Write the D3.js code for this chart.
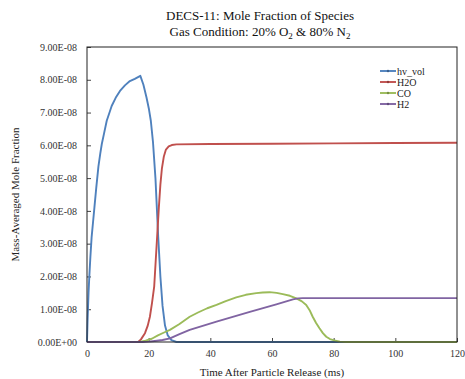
<!DOCTYPE html>
<html>
<head>
<meta charset="utf-8">
<script src="https://cdn.jsdelivr.net/npm/d3@7"></script>
<style>
  body { margin: 0; background: #fff; }
</style>
</head>
<body>
<div id="chart"></div>
<script>
const SERIF = 'Liberation Serif, DejaVu Serif, serif'

// time (ms) and mole fraction for each species
const hvTime = [0, 0.2, 0.5, 0.75, 1.1, 1.5, 2.0, 2.4, 3.0, 3.7, 4.3, 4.8, 5.5, 6.4, 7.3, 8, 9.3, 10.7, 12.3, 13.9, 15.5, 17.3, 18.3, 19.3, 20.1, 20.7, 21.4, 22.2, 23.1, 23.8, 24.5, 25.3, 26.2, 27.4, 29, 120]
const hvVal = [0, 0.7e-8, 1.5e-8, 2.0e-8, 2.6e-8, 3.2e-8, 3.7e-8, 4.1e-8, 4.7e-8, 5.35e-8, 5.75e-8, 6.04e-8, 6.35e-8, 6.75e-8, 7.0e-8, 7.2e-8, 7.45e-8, 7.66e-8, 7.83e-8, 7.96e-8, 8.03e-8, 8.12e-8, 7.85e-8, 7.46e-8, 7.1e-8, 6.75e-8, 6.1e-8, 5.0e-8, 3.2e-8, 2.0e-8, 1.1e-8, 0.5e-8, 0.2e-8, 0.06e-8, 0, 0]

const h2oTime = [0, 16.6, 17.5, 18.8, 19.7, 20.4, 21.1, 21.8, 22.3, 22.8, 23.3, 23.8, 24.3, 24.9, 25.6, 26.5, 27.5, 29, 40, 60, 80, 100, 120]
const h2oVal = [0, 0, 0.08e-8, 0.27e-8, 0.5e-8, 0.77e-8, 1.2e-8, 1.7e-8, 2.5e-8, 3.3e-8, 4.1e-8, 4.8e-8, 5.3e-8, 5.65e-8, 5.87e-8, 5.97e-8, 6.01e-8, 6.03e-8, 6.04e-8, 6.05e-8, 6.06e-8, 6.07e-8, 6.08e-8]

const coTime = [0, 17, 19, 21, 23, 25, 26.9, 30, 33.3, 36, 39, 42, 45, 48.4, 51.5, 54.9, 57, 59.2, 61.5, 63.5, 65.8, 67.9, 69.7, 71.1, 72.2, 73.2, 74.3, 75.4, 76.5, 77.6, 78.8, 80.2, 82, 84, 120]
const coVal = [0, 0, 0.04e-8, 0.1e-8, 0.2e-8, 0.29e-8, 0.37e-8, 0.55e-8, 0.77e-8, 0.9e-8, 1.03e-8, 1.13e-8, 1.25e-8, 1.36e-8, 1.44e-8, 1.49e-8, 1.51e-8, 1.52e-8, 1.5e-8, 1.46e-8, 1.41e-8, 1.33e-8, 1.24e-8, 1.13e-8, 0.97e-8, 0.77e-8, 0.58e-8, 0.42e-8, 0.27e-8, 0.16e-8, 0.09e-8, 0.05e-8, 0.01e-8, 0, 0]

const h2Time = [0, 18, 20, 22, 24.5, 26.9, 30, 33.3, 42, 52.8, 61.4, 66.8, 68.5, 70, 120]
const h2Val = [0, 0, 0.01e-8, 0.03e-8, 0.06e-8, 0.11e-8, 0.24e-8, 0.37e-8, 0.62e-8, 0.92e-8, 1.15e-8, 1.3e-8, 1.33e-8, 1.34e-8, 1.34e-8]

const seriesNames = ['hv_vol', 'H2O', 'CO', 'H2']
const seriesColors = ['#4F81BD', '#C0504D', '#9BBB59', '#8064A2']

const xTicks = [0, 20, 40, 60, 80, 100, 120]
const yTicks = [0, 1e-8, 2e-8, 3e-8, 4e-8, 5e-8, 6e-8, 7e-8, 8e-8, 9e-8]

const series = [
  { name: seriesNames[0], t: hvTime, v: hvVal },
  { name: seriesNames[1], t: h2oTime, v: h2oVal },
  { name: seriesNames[2], t: coTime, v: coVal },
  { name: seriesNames[3], t: h2Time, v: h2Val }
].map((s, i) => ({ name: s.name, color: seriesColors[i], pts: s.t.map((t, j) => [t, s.v[j]]) }))

const width = 465, height = 379
const margin = { top: 47, right: 8, bottom: 37, left: 87 }

const svg = d3.select('#chart').append('svg')
  .attr('width', width)
  .attr('height', height)
  .attr('font-family', SERIF)

const x = d3.scaleLinear().domain([0, 120]).range([margin.left, width - margin.right])
const y = d3.scaleLinear().domain([0, 9e-8]).range([height - margin.bottom, margin.top])

const sci = (v) => {
  if (v === 0) return '0.00E+00'
  const e = Math.floor(Math.log10(v) + 1e-9)
  const m = v / Math.pow(10, e)
  const es = (e < 0 ? '-' : '+') + String(Math.abs(e)).padStart(2, '0')
  return m.toFixed(2) + 'E' + es
}

// title
const title = svg.append('text')
  .attr('text-anchor', 'middle')
  .attr('font-family', SERIF)
  .attr('font-size', 13)
  .attr('fill', '#111')
title.append('tspan').attr('x', 260).attr('y', 20).text('DECS-11: Mole Fraction of Species')
const l2 = title.append('tspan').attr('x', 260).attr('y', 36)
l2.append('tspan').text('Gas Condition: 20% O')
l2.append('tspan').attr('dy', 3).attr('font-size', 9).text('2')
l2.append('tspan').attr('dy', -3).text(' & 80% N')
l2.append('tspan').attr('dy', 3).attr('font-size', 9).text('2')

// axes
const xAxis = svg.append('g')
  .attr('transform', `translate(0,${height - margin.bottom})`)
  .call(d3.axisBottom(x).tickValues(xTicks).tickSize(-4).tickPadding(8).tickFormat(d3.format('d')))
const yAxis = svg.append('g')
  .attr('transform', `translate(${margin.left},0)`)
  .call(d3.axisLeft(y).tickValues(yTicks).tickSize(-4).tickPadding(10).tickFormat(sci))

for (const g of [xAxis, yAxis]) {
  g.attr('font-family', SERIF).attr('font-size', 10)
  g.select('.domain').remove()
  g.selectAll('.tick line').attr('stroke', '#444')
  g.selectAll('.tick text').attr('fill', '#333')
}

const line = d3.line().x(d => x(d[0])).y(d => y(d[1]))

svg.append('g')
  .selectAll('path')
  .data(series)
  .join('path')
  .attr('fill', 'none')
  .attr('stroke', d => d.color)
  .attr('stroke-width', 1.9)
  .attr('stroke-linejoin', 'round')
  .attr('d', d => line(d.pts))

// plot frame
svg.append('rect')
  .attr('x', x(0))
  .attr('y', y(9e-8))
  .attr('width', x(120) - x(0))
  .attr('height', y(0) - y(9e-8))
  .attr('fill', 'none')
  .attr('stroke', '#222')
  .attr('stroke-width', 1)

// axis titles
svg.append('text')
  .attr('x', 272)
  .attr('y', 376)
  .attr('text-anchor', 'middle')
  .attr('font-family', SERIF)
  .attr('font-size', 11)
  .attr('fill', '#222')
  .text('Time After Particle Release (ms)')

svg.append('text')
  .attr('transform', `translate(19,${(y(0) + y(9e-8)) / 2}) rotate(-90)`)
  .attr('text-anchor', 'middle')
  .attr('font-family', SERIF)
  .attr('font-size', 11)
  .attr('fill', '#222')
  .text('Mass-Averaged Mole Fraction')

// legend
const legend = svg.append('g')
  .selectAll('g')
  .data(series)
  .join('g')
  .attr('transform', (d, i) => `translate(380,${71 + i * 11})`)

legend.append('line')
  .attr('x1', 0).attr('x2', 16)
  .attr('stroke', d => d.color)
  .attr('stroke-width', 1.9)
legend.append('circle')
  .attr('cx', 8).attr('r', 1.2)
  .attr('fill', d => d3.color(d.color).darker(0.8))
legend.append('text')
  .attr('x', 17)
  .attr('dy', '0.35em')
  .attr('font-family', SERIF)
  .attr('font-size', 10)
  .attr('fill', '#222')
  .text(d => d.name)
</script>
</body>
</html>
